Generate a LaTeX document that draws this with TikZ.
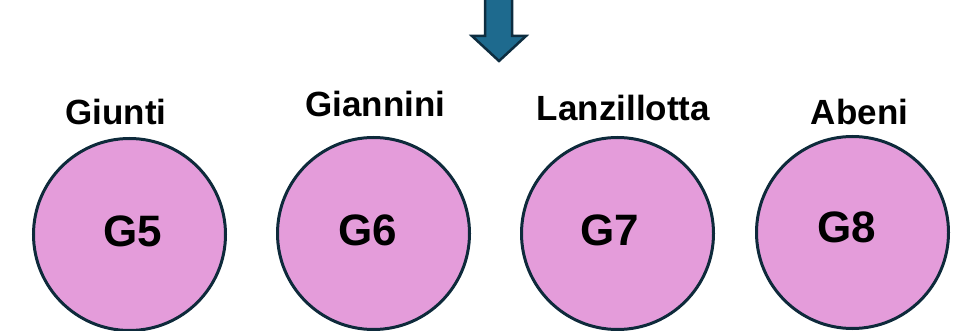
\documentclass[tikz,border=0pt]{standalone}
\usepackage{fontspec}
\setmainfont{Liberation Sans}
\definecolor{pinkfill}{HTML}{E49CDA}
\definecolor{navyline}{HTML}{0E2A3B}
\definecolor{arrowfill}{HTML}{1E6A8E}
\definecolor{arrowline}{HTML}{0D2D40}
\begin{document}
\begin{tikzpicture}[x=1pt,y=-1pt,
  grp/.style={circle,draw=navyline,fill=pinkfill,line width=3pt,minimum size=192pt,inner sep=0pt},
  gtext/.style={anchor=base,font=\fontsize{44}{44}\selectfont\bfseries,inner sep=0pt},
  lbltext/.style={anchor=base,font=\fontsize{35}{35}\selectfont\bfseries,inner sep=0pt}]
\useasboundingbox (0,0) rectangle (961,331);
% arrow
\draw[fill=arrowfill,draw=arrowline,line width=2.5pt,line join=miter]
  (485,-10) -- (512,-10) -- (512,36) -- (526,36) -- (499,61) -- (472,36) -- (485,36) -- cycle;
% circles
\node[grp] (c5) at (129.5,234.5) {};
\node[grp] (c6) at (373.5,233.5) {};
\node[grp] (c7) at (617.5,233.5) {};
\node[grp] (c8) at (852.5,232.5) {};
% numbers
\node[gtext] (t5) at (132.5,247) {G5};
\node[gtext] (t6) at (367.5,246) {G6};
\node[gtext] (t7) at (610,245) {G7};
\node[gtext] (t8) at (846.5,243) {G8};
% names
\node[lbltext] (n5) at (116,125) {Giunti};
\node[lbltext] (n6) at (375.5,117) {Giannini};
\node[lbltext] (n7) at (623.5,121) {Lanzillotta};
\node[lbltext] (n8) at (859.5,125) {Abeni};
\end{tikzpicture}
\end{document}
